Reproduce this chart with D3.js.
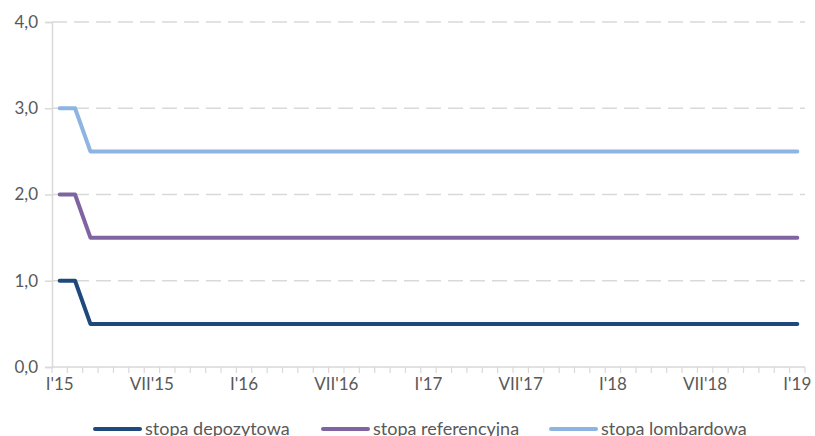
<!DOCTYPE html>
<html>
<head>
<meta charset="utf-8">
<script src="https://cdn.jsdelivr.net/npm/d3@7"></script>
<style>
  body { margin: 0; background: #fff; }
  svg { display: block; }
  text { font-family: Lato, "Open Sans", sans-serif; fill: #595959; }
</style>
</head>
<body>
<svg id="chart" width="815" height="436"></svg>
<script>
// Monthly NBP interest rates, January 2015 – January 2019
const months = [
  "2015-01","2015-02","2015-03","2015-04","2015-05","2015-06","2015-07","2015-08","2015-09","2015-10","2015-11","2015-12",
  "2016-01","2016-02","2016-03","2016-04","2016-05","2016-06","2016-07","2016-08","2016-09","2016-10","2016-11","2016-12",
  "2017-01","2017-02","2017-03","2017-04","2017-05","2017-06","2017-07","2017-08","2017-09","2017-10","2017-11","2017-12",
  "2018-01","2018-02","2018-03","2018-04","2018-05","2018-06","2018-07","2018-08","2018-09","2018-10","2018-11","2018-12",
  "2019-01"
];

const depozytowa = [
  1.0,1.0,0.5,0.5,0.5,0.5,0.5,0.5,0.5,0.5,0.5,0.5,
  0.5,0.5,0.5,0.5,0.5,0.5,0.5,0.5,0.5,0.5,0.5,0.5,
  0.5,0.5,0.5,0.5,0.5,0.5,0.5,0.5,0.5,0.5,0.5,0.5,
  0.5,0.5,0.5,0.5,0.5,0.5,0.5,0.5,0.5,0.5,0.5,0.5,
  0.5
];
const referencyjna = [
  2.0,2.0,1.5,1.5,1.5,1.5,1.5,1.5,1.5,1.5,1.5,1.5,
  1.5,1.5,1.5,1.5,1.5,1.5,1.5,1.5,1.5,1.5,1.5,1.5,
  1.5,1.5,1.5,1.5,1.5,1.5,1.5,1.5,1.5,1.5,1.5,1.5,
  1.5,1.5,1.5,1.5,1.5,1.5,1.5,1.5,1.5,1.5,1.5,1.5,
  1.5
];
const lombardowa = [
  3.0,3.0,2.5,2.5,2.5,2.5,2.5,2.5,2.5,2.5,2.5,2.5,
  2.5,2.5,2.5,2.5,2.5,2.5,2.5,2.5,2.5,2.5,2.5,2.5,
  2.5,2.5,2.5,2.5,2.5,2.5,2.5,2.5,2.5,2.5,2.5,2.5,
  2.5,2.5,2.5,2.5,2.5,2.5,2.5,2.5,2.5,2.5,2.5,2.5,
  2.5
];

const xTickMonths = ["2015-01","2015-07","2016-01","2016-07","2017-01","2017-07","2018-01","2018-07","2019-01"];
const xTickLabels = ["I'15","VII'15","I'16","VII'16","I'17","VII'17","I'18","VII'18","I'19"];
const yTicks = [0, 1, 2, 3, 4];

const seriesNames = ["stopa depozytowa", "stopa referencyjna", "stopa lombardowa"];
const seriesColors = ["#1f497d", "#8064a2", "#8db4e2"];
const seriesValues = [depozytowa, referencyjna, lombardowa];

const svg = d3.select("#chart");
const plotLeft = 52, plotRight = 805, plotTop = 22, plotBottom = 367;

const x = d3.scaleBand().domain(months).range([plotLeft, plotRight]);
const y = d3.scaleLinear().domain([0, 4]).range([plotBottom, plotTop]);

// Dashed horizontal gridlines
svg.append("g")
  .selectAll("line")
  .data(yTicks.filter(d => d > 0))
  .join("line")
  .attr("x1", plotLeft).attr("x2", plotRight)
  .attr("y1", d => y(d)).attr("y2", d => y(d))
  .attr("stroke", "#d9d9d9")
  .attr("stroke-width", 1.5)
  .attr("stroke-dasharray", "15,7");

// Y axis
const yAxis = svg.append("g")
  .attr("transform", `translate(${plotLeft},0)`)
  .call(d3.axisLeft(y).tickValues(yTicks).tickSize(7).tickPadding(7)
    .tickFormat(d => d3.format(".1f")(d).replace(".", ",")));
yAxis.select(".domain").attr("stroke", "#d9d9d9").attr("stroke-width", 1.5);
yAxis.selectAll(".tick line").attr("stroke", "#d9d9d9").attr("stroke-width", 1.5);
yAxis.selectAll("text").attr("font-size", 17).attr("font-family", null).style("fill", "#595959");

// X axis: tick marks on category boundaries, labels centred on months
const boundaries = months.map(m => x(m)).concat([plotRight]);
const xg = svg.append("g");
xg.append("line")
  .attr("x1", plotLeft).attr("x2", plotRight)
  .attr("y1", plotBottom).attr("y2", plotBottom)
  .attr("stroke", "#d9d9d9").attr("stroke-width", 1.5);
xg.selectAll("line.tk")
  .data(boundaries)
  .join("line")
  .attr("class", "tk")
  .attr("x1", d => d).attr("x2", d => d)
  .attr("y1", plotBottom).attr("y2", plotBottom + 6)
  .attr("stroke", "#d9d9d9").attr("stroke-width", 1.2);
xg.selectAll("text")
  .data(xTickMonths)
  .join("text")
  .attr("x", d => x(d) + x.bandwidth() / 2)
  .attr("y", plotBottom + 23)
  .attr("text-anchor", "middle")
  .attr("font-size", 17)
  .text((d, i) => xTickLabels[i]);

// Rate lines
const line = d3.line()
  .x((d, i) => x(months[i]) + x.bandwidth() / 2)
  .y(d => y(d));

svg.append("g")
  .selectAll("path")
  .data(seriesValues)
  .join("path")
  .attr("d", d => line(d))
  .attr("fill", "none")
  .attr("stroke", (d, i) => seriesColors[i])
  .attr("stroke-width", 4)
  .attr("stroke-linejoin", "round")
  .attr("stroke-linecap", "round");

// Legend
const legendX = [95, 323, 551];
const legend = svg.append("g")
  .selectAll("g")
  .data(seriesNames)
  .join("g")
  .attr("transform", (d, i) => `translate(${legendX[i]},429)`);
legend.append("line")
  .attr("x1", 0).attr("x2", 45)
  .attr("stroke", (d, i) => seriesColors[i])
  .attr("stroke-width", 4)
  .attr("stroke-linecap", "round");
legend.append("text")
  .attr("x", 50)
  .attr("y", 6)
  .attr("font-size", 18)
  .text(d => d);
</script>
</body>
</html>
